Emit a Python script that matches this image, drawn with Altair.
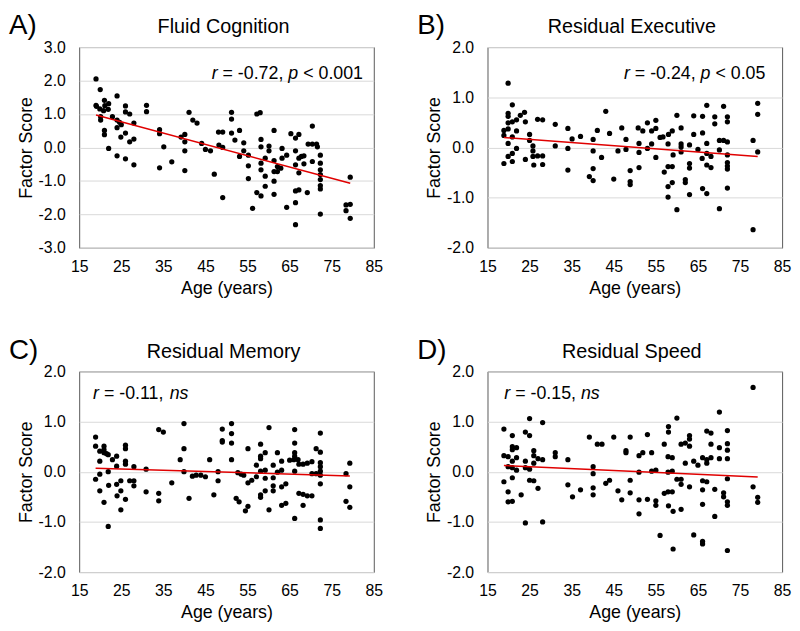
import altair as alt
import pandas as pd

FONT = "Liberation Sans"
W, H = 298, 203

# ---------------- data ----------------
A_AGE = [19.0, 20.0, 19.0, 19.1, 19.9, 21.0, 22.0, 21.9, 21.1, 20.8, 20.1, 20.1, 21.0, 21.0, 22.0,
         24.0, 22.9, 24.0, 24.6, 25.0, 24.0, 24.9, 26.0, 26.0, 27.0, 26.0, 27.0, 28.0, 28.0, 24.0,
         26.0, 28.0, 31.0, 31.0, 34.1, 34.1, 35.1, 34.1, 37.0, 41.1, 42.0, 43.0, 39.2, 40.1, 40.1,
         40.1, 40.1, 44.1, 45.0, 46.2, 47.1, 48.1, 49.1, 48.2, 49.1, 49.1,
         51.2, 51.2, 51.2, 52.0, 53.1, 54.1, 54.1, 53.1, 55.2, 55.2, 55.2, 56.2, 57.2, 58.0, 58.2,
         58.2, 58.2, 58.2, 57.2, 58.2, 59.2, 59.2, 59.2, 60.1, 60.1, 61.3, 61.3, 61.3, 61.3, 61.3,
         62.1, 62.1, 63.2, 63.2, 62.9, 64.3, 64.3, 65.3, 66.4, 66.4, 66.4, 66.4, 66.4, 67.2, 67.2,
         67.2, 67.2, 66.4, 67.8, 68.4, 68.4, 69.2, 70.4, 69.4, 70.4, 71.4, 71.6, 70.4, 72.3, 72.3,
         72.3, 72.3, 72.3, 72.3, 72.3, 72.3, 79.4, 78.4, 79.4, 78.4, 79.4]
A_SCORE = [2.05, 1.73, 1.26, 1.23, 1.15, 1.41, 1.31, 1.14, 1.25, 1.10, 0.92, 0.82, 0.51, 0.38, -0.03,
           1.54, 0.92, 0.82, 0.75, 0.68, 0.59, 0.31, 1.24, 1.06, 1.00, 0.43, 0.17, 0.25, 0.73, -0.25,
           -0.34, -0.52, 1.26, 1.07, 0.53, 0.41, 0.02, -0.61, -0.43, 1.05, 0.82, 0.73, 0.31, 0.39, 0.17,
           -0.10, -0.69, 0.12, -0.06, -0.10, -0.80, 0.46, 0.46, 0.07, 0.00, -1.50,
           1.05, 0.85, 0.43, 0.22, 0.51, 0.14, -0.10, -0.27, -0.23, -0.55, -0.93, -1.82, 1.00, 1.04, 0.24,
           0.02, -0.47, -0.67, -1.35, -1.45, -0.32, -0.86, -1.16, 0.04, -0.10, 0.51, -0.39, -0.72, -1.01, -1.40,
           -0.57, -0.72, -0.03, -0.32, -0.62, -0.23, -1.79, 0.41, 0.28, -0.10, -0.52, -1.65, -2.31, 0.39, -0.32,
           -0.76, -1.27, -1.30, -0.27, -0.49, -0.25, -1.35, 0.64, 0.10, 0.10, 0.10, 0.02, -0.42, -0.23, -0.47,
           -0.67, -0.81, -0.96, -1.14, -1.24, -1.99, -0.89, -1.72, -1.70, -1.89, -2.12]

B_AGE = [19.9, 18.9, 18.9, 18.9, 19.9, 19.9, 19.9, 19.9, 19.9, 19.9, 20.9, 20.9, 20.9, 20.9, 20.9,
         21.9, 21.9, 21.9, 22.8, 23.8, 24.0, 24.0, 25.0, 25.0, 25.8, 25.8, 25.8, 26.0, 26.9, 28.1,
         26.9, 28.1, 28.1, 31.1, 31.1, 34.1, 34.1, 34.1, 35.1, 37.1, 39.2, 40.1, 40.1, 40.1, 40.1,
         41.1, 42.1, 43.1, 44.0, 45.0, 46.0,
         46.9, 47.9, 47.9, 48.9, 48.9, 48.9, 50.8, 51.9, 51.0, 51.0, 51.0, 53.0, 54.0, 53.0, 54.0,
         55.0, 55.0, 55.0, 56.0, 56.7, 57.0, 57.9, 58.9, 57.9, 58.9, 57.9, 57.9, 58.0, 58.9, 59.1,
         60.0, 60.0, 61.0, 61.0, 61.0, 61.0, 62.0, 62.0, 63.0, 63.0, 63.0, 63.0, 64.0, 64.0, 65.0,
         66.0, 66.1, 66.1, 66.1, 67.1, 67.1, 67.1, 67.1, 67.1, 68.1, 68.1, 69.0, 69.0, 70.1, 70.1,
         70.1, 71.1, 72.0, 71.1, 72.0, 72.0, 72.0, 72.0, 72.0, 72.0, 72.0, 78.1, 78.1, 79.2, 79.2, 79.2]
B_SCORE = [1.28, 0.34, 0.24, -0.32, 0.68, 0.62, 0.49, 0.37, 0.08, -0.18, 0.85, 0.51, 0.21, -0.12, -0.28,
           0.55, 0.33, -0.02, 0.64, 0.70, 0.51, -0.24, 0.26, 0.14, 0.03, -0.07, -0.18, -0.35, 0.56, 0.55,
           -0.17, -0.17, -0.34, 0.46, 0.03, 0.38, -0.02, -0.45, 0.17, 0.22, -0.58, 0.16, -0.07, -0.42, -0.66,
           0.34, -0.20, 0.72, 0.28, -0.63, -0.07,
           0.39, 0.16, -0.04, -0.46, -0.68, -0.74, 0.39, 0.33, 0.08, -0.10, -0.40, 0.49, 0.33, -0.02, 0.07,
           0.54, 0.38, -0.20, 0.20, 0.21, -0.49, -0.38, -0.38, -0.78, -0.70, -0.99, 0.07, 0.26, 0.33, -0.15,
           0.64, -1.24, 0.39, 0.07, 0.01, -0.09, -0.64, -0.70, 0.05, -0.32, -0.41, -0.94, 0.63, 0.26, -0.04,
           -0.22, 0.62, 0.29, -0.82, -0.92, 0.84, 0.08, -0.12, -0.35, -0.40, -0.18, 0.61, 0.47, -0.05, -1.22,
           0.14, 0.14, 0.11, 0.82, 0.61, 0.51, -0.15, -0.30, -0.37, -0.43, -0.81, 0.14, -1.64, 0.88, 0.66, -0.09]

C_AGE = [18.9, 18.9, 18.9, 19.9, 19.9, 19.9, 20.9, 20.9, 20.9, 21.5, 21.9, 19.9, 20.9, 21.9, 22.0,
         21.9, 22.9, 23.9, 23.9, 23.9, 24.0, 24.9, 24.9, 24.9, 26.0, 26.0, 26.0, 26.0, 26.0, 27.0,
         28.0, 28.0, 28.0, 30.9, 30.9, 33.9, 35.0, 33.9, 33.9, 37.0, 39.0, 39.9, 39.9, 39.9, 41.1,
         41.9, 42.8, 43.9, 45.0, 46.0, 47.0, 48.0, 48.0, 49.0, 49.0, 49.0,
         51.2, 51.2, 51.2, 51.2, 52.7, 53.5, 54.1, 52.3, 53.0, 55.1, 55.1, 54.5, 55.1, 56.0, 57.1,
         57.1, 58.1, 58.1, 58.1, 59.2, 58.1, 59.2, 59.2, 58.1, 58.1, 59.2, 60.1, 60.1, 61.1, 61.1,
         61.1, 61.1, 62.1, 62.1, 63.1, 63.1, 63.1, 64.1, 63.1, 64.1, 65.0, 66.0, 67.0, 66.2, 66.2,
         66.2, 66.2, 66.2, 66.2, 67.2, 68.2, 69.2, 70.3, 67.2, 68.2, 69.2, 70.3, 68.2, 70.3, 71.3,
         71.3, 72.3, 72.3, 72.3, 72.3, 72.3, 72.3, 72.3, 72.3, 72.3, 78.4, 78.4, 79.3, 79.3, 79.3]
C_SCORE = [0.69, 0.51, -0.15, 0.41, 0.21, -0.05, 0.51, 0.44, 0.38, 0.36, 0.34, -0.38, -0.61, 0.00, -0.27,
           -1.09, 0.24, 0.31, 0.11, -0.25, -0.48, -0.18, -0.38, -0.76, 0.53, 0.46, 0.21, 0.15, -0.55, -0.18,
           -0.18, -0.28, 0.10, 0.05, -0.40, 0.84, 0.79, -0.43, -0.58, -0.22, 0.24, 0.96, 0.46, 0.00, -0.53,
           -0.09, -0.07, -0.07, -0.10, 0.24, -0.46, 0.00, -0.18, 0.85, 0.62, 0.59,
           0.96, 0.76, 0.57, 0.24, -0.02, -0.05, -0.07, -0.53, -0.60, 0.46, -0.69, -0.78, -0.22, -0.17, 0.13,
           -0.10, 0.55, 0.31, 0.26, 0.38, 0.01, 0.03, -0.13, -0.46, -0.51, -0.38, 0.88, -0.76, 0.13, -0.12,
           -0.28, -0.38, 0.38, -0.01, 0.21, 0.03, -0.30, -0.24, -0.67, -0.63, 0.23, 0.24, 0.24, 0.84, 0.57,
           0.38, 0.01, 0.31, -0.93, 0.15, 0.15, 0.17, 0.20, -0.43, -0.45, -0.48, -0.48, -0.67, -0.04, -0.04,
           0.46, 0.77, 0.39, 0.18, 0.10, 0.01, -0.07, -0.24, -0.96, -1.13, -0.04, -0.59, 0.17, -0.30, -0.71]

D_AGE = [18.9, 18.9, 18.9, 19.9, 19.9, 19.9, 19.9, 20.9, 20.9, 20.9, 20.9, 20.9, 20.9, 20.9, 21.9,
         21.9, 21.9, 23.0, 24.0, 25.0, 24.0, 24.0, 25.0, 25.0, 25.0, 26.0, 24.0, 26.0, 26.0, 26.0,
         27.0, 27.0, 28.1, 28.1, 28.1, 31.1, 31.1, 34.1, 34.1, 35.2, 37.1, 39.2, 40.1, 40.1, 40.1,
         40.1, 41.1, 42.2, 43.1, 44.0, 45.0, 46.0,
         46.9, 48.9, 48.9, 48.9, 47.9, 47.9, 51.0, 51.9, 54.0, 51.0, 51.0, 51.0, 53.0, 53.0, 54.0,
         55.0, 55.0, 55.0, 56.0, 57.0, 57.0, 57.9, 58.9, 57.9, 58.9, 57.9, 58.9, 58.0, 58.0, 58.0,
         59.1, 59.1, 60.0, 60.0, 61.0, 61.0, 61.0, 62.0, 63.0, 63.0, 63.0, 61.0, 62.0, 63.0, 64.0,
         65.0, 64.0, 66.1, 66.1, 66.1, 67.1, 67.1, 66.1, 67.1, 66.1, 66.1, 67.1, 68.1, 68.1, 68.1,
         69.0, 69.0, 70.1, 70.1, 70.1, 71.1, 71.1, 72.0, 72.0, 72.0, 72.0, 72.0, 72.0, 72.0, 72.0,
         78.1, 78.1, 79.2, 79.2]
D_SCORE = [0.85, 0.32, -0.20, 0.30, 0.10, -0.40, -0.60, 0.72, 0.50, 0.44, 0.21, 0.08, -0.12, -0.59, 0.48,
           0.28, 0.03, -0.46, 0.79, 0.72, 0.21, 0.08, 1.06, 0.05, -0.17, -0.18, -1.02, 0.42, 0.32, 0.17,
           0.26, -0.33, 0.98, 0.24, -1.00, 0.38, 0.30, 0.24, -0.26, -0.50, -0.36, 0.69, 0.10, -0.04, -0.32,
           -0.46, 0.55, 0.55, -0.23, -0.17, 0.69, -0.38,
           -0.56, 0.69, -0.17, -0.42, 0.42, 0.38, 0.32, 0.38, 0.38, -0.01, -0.56, -0.84, 0.74, -0.55, 0.01,
           0.03, -0.58, -0.67, -1.27, 0.55, -0.43, -0.40, -0.40, 0.30, 0.28, -0.01, 0.01, 0.90, 0.79, -0.68,
           -0.79, -1.54, 1.07, -0.15, -0.15, -0.25, 0.55, 0.57, 0.72, 0.65, 0.51, -0.75, 0.17, -0.30, 0.21,
           0.13, -1.26, -1.39, -1.44, 0.28, 0.24, 0.17, -0.18, -0.20, -0.36, -0.65, 0.81, 0.77, 0.55, 0.28,
           -0.35, -0.89, 1.19, 0.48, 0.26, -0.42, -0.50, 0.82, 0.56, 0.43, 0.26, -0.14, -0.60, -0.67, -1.57,
           1.68, -0.30, -0.51, -0.61]

TITLES = ["Fluid Cognition", "Residual Executive", "Residual Memory", "Residual Speed"]
LETTERS = ["A)", "B)", "C)", "D)"]
Y_RANGES = [(-3, 3), (-2, 2), (-2, 2), (-2, 2)]
X_TICKS = [15, 25, 35, 45, 55, 65, 75, 85]
ANNOTATIONS = [
    [("r", True), (" = -0.72, ", False), ("p", True), (" < 0.001", False)],
    [("r", True), (" = -0.24, ", False), ("p", True), (" < 0.05", False)],
    [("r", True), (" = -0.11, ", False), ("ns", True)],
    [("r", True), (" = -0.15, ", False), ("ns", True)],
]
ANN_POS = [(134, 32), (138, 32), (14, 28), (17, 28)]

# Arial / Liberation Sans advance widths (em)
ADV = {"r": .333, " ": .278, "=": .584, "-": .333, ".": .278, ",": .278, "p": .556,
       "<": .584, "n": .556, "s": .5}


def text_width(s, size):
    return sum(ADV.get(c, .556) for c in s) * size


def label(text, x, y, size, style="normal", align="left"):
    return alt.Chart(pd.DataFrame({"t": [text]})).mark_text(
        align=align, baseline="alphabetic", fontSize=size, fontStyle=style,
        font=FONT, color="black"
    ).encode(x=alt.value(x), y=alt.value(y), text="t:N")


def panel(age, score, yr, title, letter, segs, pos):
    df = pd.DataFrame({"age": age, "score": score})
    ymin, ymax = yr
    x = alt.X("age:Q", scale=alt.Scale(domain=[15, 85], nice=False, zero=False),
              axis=alt.Axis(values=X_TICKS, title="Age (years)", grid=False, ticks=False,
                            domain=False, labelPadding=11, titlePadding=5, labelFlush=False,
                            labelOverlap=False))
    y = alt.Y("score:Q", scale=alt.Scale(domain=[ymin, ymax], nice=False, zero=False),
              axis=alt.Axis(values=list(range(ymin, ymax + 1)), title="Factor Score", grid=True,
                            gridColor="#d9d9d9", gridWidth=1, ticks=False, domain=False,
                            labelPadding=14, titlePadding=3, labelOverlap=False,
                            labelExpr="replace(format(datum.value, '.1f'), '\u2212', '-')"))
    base = alt.Chart(df)
    pts = base.mark_circle(size=28, color="black", opacity=1).encode(x=x, y=y)
    line = base.transform_regression("age", "score").mark_line(
        color="#e00000", strokeWidth=1.5).encode(x=x, y=y)
    layers = [pts, line,
              label(title, W / 2 - 3, -14, 20, align="center"),
              label(letter, -71, -13, 28)]
    xx, yy = pos
    size = 18
    for txt, ital in segs:
        lead = len(txt) - len(txt.lstrip(" "))
        layers.append(label(txt.strip(), xx + lead * ADV[" "] * size, yy, size,
                            style="italic" if ital else "normal"))
        xx += text_width(txt, size)
    return alt.layer(*layers).properties(width=W, height=H)


ages = [A_AGE, B_AGE, C_AGE, D_AGE]
scores = [A_SCORE, B_SCORE, C_SCORE, D_SCORE]
panels = [panel(ages[i], scores[i], Y_RANGES[i], TITLES[i], LETTERS[i], ANNOTATIONS[i], ANN_POS[i])
          for i in range(4)]

chart = alt.concat(*panels, columns=2, spacing={"row": 125, "column": 115}, bounds="flush").properties(
    padding=0
).configure_view(
    stroke="#595959", strokeWidth=1
).configure_axis(
    labelFont=FONT, titleFont=FONT, labelColor="black", titleColor="black",
    labelFontSize=16, titleFontSize=18, titleFontWeight="normal"
)

chart.save("out.html", embed_options={"renderer": "svg", "actions": False})
